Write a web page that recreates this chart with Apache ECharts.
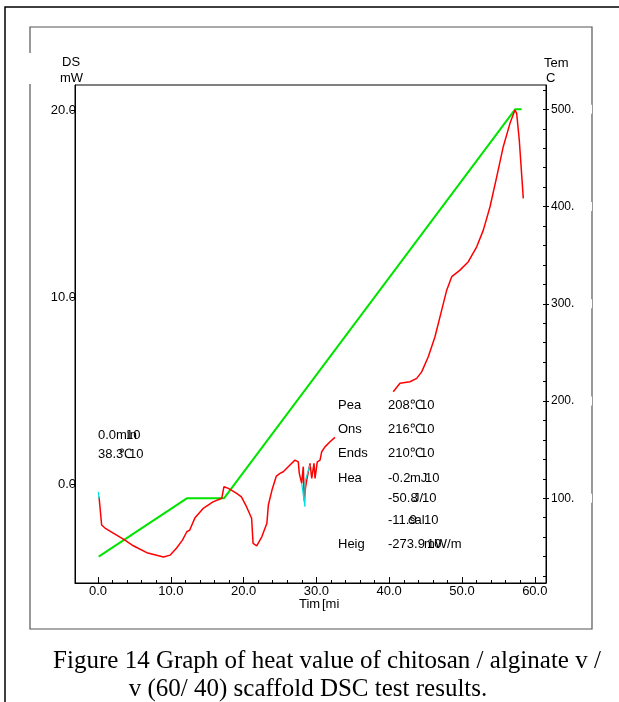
<!DOCTYPE html>
<html><head><meta charset="utf-8">
<script src="https://cdn.jsdelivr.net/npm/echarts@6/dist/echarts.min.js"></script>
<style>html,body{margin:0;padding:0;background:#fff}#c{width:619px;height:702px}</style>
</head><body><div id="c"></div>
<script>
// ---- data ----
const redTime = [0.14,0.5,0.96,2.1,3.7,4.85,6.7,9.0,9.9,10.8,11.6,12.2,12.6,13.3,14.5,15.8,17.0,17.3,17.9,19.05,19.7,20.4,21.1,21.3,21.8,22.5,22.7,23.2,23.4,23.9,24.5,25.0,25.45,26.37,27.06,27.51,27.65,27.98,28.2,28.34,28.5,28.67,29.12,29.36,29.67,29.81,30.12,30.5,30.73,31.18,31.87,32.55,
  36.5,
  40.56,41.48,42.86,43.78,44.46,45.37,46.29,47.21,47.9,48.59,49.73,50.87,52.02,52.93,53.85,54.77,55.67,56.59,57.28,57.51,57.87,58.42];
const redDsc = [-0.68,-2.19,-2.35,-2.62,-3.0,-3.3,-3.67,-3.9,-3.8,-3.42,-3.0,-2.55,-2.46,-1.82,-1.28,-0.95,-0.76,-0.14,-0.23,-0.5,-0.68,-1.21,-1.83,-3.17,-3.3,-2.82,-2.82,-2.1,-1.12,-0.32,0.43,0.57,0.66,1.02,1.28,1.19,0.57,0.04,0.93,-0.9,-0.2,0.21,1.11,0.3,1.11,0.3,1.19,1.28,1.73,1.99,2.26,2.5,
  null,
  4.94,5.39,5.47,5.65,6.0,6.81,7.88,9.30,10.37,11.09,11.44,11.89,12.69,13.58,14.83,16.43,18.04,19.29,20.0,19.82,18.4,15.28];
const cyanTime = [0.05,0.14,14,27.98,28.43,28.43,29.12];
const cyanDsc  = [-0.42,-0.8,null,0.04,-1.21,0.12,1.02];
const tempTime = [0.1,12.2,17.3,57.3,58.2];
const tempC    = [40,100,100,500,500];

const xTickLabels = [0,10,20,30,40,50,60];
const xMinorTicks = [0,2,4,6,8,10,12,14,16,18,20,22,24,26,28,30,32,34,36,38,40,42,44,46,48,50,52,54,56,58,60];
const dscTickLabels = [0,10,20];
const tempTickLabels = [100,200,300,400,500];
const tempMinorTicks = [20,40,60,80,100,120,140,160,180,200,220,240,260,280,300,320,340,360,380,400,420,440,460,480,500,520];

const leftNotes = [["0.0","min","10"],["38.3","℃","10"]];
const noteLabels = ["Pea","Ons","Ends","Hea","","","Heig"];
const noteValues = [["208.","℃","10"],["216.","℃","10"],["210.","℃","10"],["-0.2","mJ","10"],["-50.8","J/","10"],["-11.9","cal","10"],["-273.9","mW/m","10"]];
const captionLines = ["Figure 14 Graph of heat value of chitosan / alginate v /","v (60/ 40) scaffold DSC test results."];

// ---- chart ----
const pair = (xs, ys) => xs.map((x,i)=>[x, ys[i]===null ? '-' : ys[i]]);
const F = 'Liberation Sans, Arial, sans-serif';
const blk = {color:'#000', width:1};

const graphics = [];
graphics.push({type:'polyline', z:-10, shape:{points:[[5,702],[5,7],[619,7]]}, style:{stroke:'#000', lineWidth:1.5, fill:null}});
graphics.push({type:'rect', z:-10, shape:{x:30,y:27,width:562,height:602}, style:{stroke:'#555', lineWidth:1.2, fill:null}});
graphics.push({type:'rect', z:5, shape:{x:28,y:53,width:50,height:31}, style:{fill:'#fff'}});
graphics.push({type:'text', z:6, style:{x:62,y:62,text:'DS',font:'13px '+F,fill:'#000',verticalAlign:'middle'}});
graphics.push({type:'text', z:6, style:{x:60,y:78,text:'mW',font:'13px '+F,fill:'#000',verticalAlign:'middle'}});
graphics.push({type:'text', z:6, style:{x:544,y:63,text:'Tem',font:'13px '+F,fill:'#000',verticalAlign:'middle'}});
graphics.push({type:'text', z:6, style:{x:546,y:78,text:'C',font:'13px '+F,fill:'#000',verticalAlign:'middle'}});
graphics.push({type:'text', z:6, style:{x:299,y:604,text:'Tim',font:'13px '+F,fill:'#000',verticalAlign:'middle'}});
graphics.push({type:'text', z:6, style:{x:322,y:604,text:'[mi',font:'13px '+F,fill:'#000',verticalAlign:'middle'}});
const lnY = [435,454];
const lnX = [[98,116,126],[98,119,129]];
leftNotes.forEach((r,i)=>r.forEach((s,j)=>graphics.push({type:'text', z:6, style:{x:lnX[i][j],y:lnY[i],text:s,font:'13px '+F,fill:'#000',verticalAlign:'middle'}})));
const rowY = [405,429,453,478,498,520,544];
const valX = [[388,410,420],[388,410,420],[388,410,420],[388,410,425],[388,413,422],[388,408,424],[388,424,427]];
noteLabels.forEach((s,i)=>{ if(s) graphics.push({type:'text', z:6, style:{x:338,y:rowY[i],text:s,font:'13px '+F,fill:'#000',verticalAlign:'middle'}}); });
noteValues.forEach((r,i)=>r.forEach((s,j)=>graphics.push({type:'text', z:6, style:{x:valX[i][j],y:rowY[i],text:s,font:'13px '+F,fill:'#000',verticalAlign:'middle'}})));
const capX = [327,308];
captionLines.forEach((s,i)=>graphics.push({type:'text', z:6, style:{x:capX[i],y:661+28*i,text:s,font:'25px Liberation Serif, Times New Roman, serif',fill:'#000',align:'center',verticalAlign:'middle'}}));

const chart = echarts.init(document.getElementById('c'), null, {renderer:'canvas'});
chart.setOption({
  animation:false,
  backgroundColor:'#fff',
  grid:{left:75, top:85, width:471, height:498, show:true, borderColor:'#000', borderWidth:1, backgroundColor:'transparent'},
  xAxis:[
    {type:'value', min:-3.16, max:61.54, position:'bottom',
     axisLine:{onZero:false, lineStyle:blk}, splitLine:{show:false},
     axisTick:{inside:true, length:6, customValues:xTickLabels, lineStyle:blk},
     axisLabel:{customValues:xTickLabels, formatter:v=>v.toFixed(1), color:'#000', fontSize:13, fontFamily:F, margin:2}},
    {type:'value', min:-3.16, max:61.54, position:'bottom',
     axisLine:{show:false, onZero:false}, splitLine:{show:false},
     axisTick:{inside:true, length:3, customValues:xMinorTicks, lineStyle:blk},
     axisLabel:{show:false}}
  ],
  yAxis:[
    {type:'value', min:-5.29, max:21.34, position:'left',
     axisLine:{show:true, onZero:false, lineStyle:blk}, splitLine:{show:false},
     axisTick:{show:true, inside:false, length:4, customValues:dscTickLabels, lineStyle:blk},
     axisLabel:{customValues:dscTickLabels, formatter:v=>v.toFixed(1), color:'#000', fontSize:13, fontFamily:F, margin:-1}},
    {type:'value', min:12.9, max:525, position:'right',
     axisLine:{show:true, onZero:false, lineStyle:blk}, splitLine:{show:false},
     axisTick:{show:true, inside:true, length:3, customValues:tempMinorTicks, lineStyle:blk},
     axisLabel:{customValues:tempTickLabels, formatter:v=>v+'.', color:'#000', fontSize:12, fontFamily:F, margin:5,
       backgroundColor:'#fff', width:25, padding:[0,16,0,0], lineHeight:9}},
    {type:'value', min:12.9, max:525, position:'right',
     axisLine:{show:false, onZero:false}, splitLine:{show:false},
     axisTick:{show:true, inside:false, length:3, customValues:tempTickLabels, lineStyle:blk},
     axisLabel:{show:false}}
  ],
  graphic:graphics,
  series:[
    {type:'line', name:'Temp', xAxisIndex:0, yAxisIndex:1, data:pair(tempTime,tempC), symbol:'none', lineStyle:{color:'#00e400', width:2}, z:2},
    {type:'line', name:'DSC', xAxisIndex:0, yAxisIndex:0, data:pair(redTime,redDsc), symbol:'none', connectNulls:false, lineStyle:{color:'#ff0000', width:1.5}, z:3},
    {type:'line', name:'DSC2', xAxisIndex:0, yAxisIndex:0, data:pair(cyanTime,cyanDsc), symbol:'none', connectNulls:false, lineStyle:{color:'#00dede', width:1.2}, z:4}
  ]
});
</script></body></html>
